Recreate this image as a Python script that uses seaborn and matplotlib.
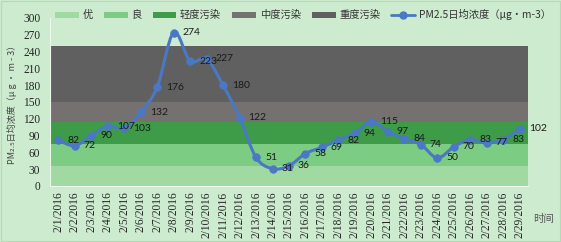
import numpy as np
import pandas as pd
import matplotlib
matplotlib.use('Agg')
import matplotlib.pyplot as plt
import seaborn as sns
from matplotlib.patches import Patch, PathPatch
from matplotlib.lines import Line2D
from matplotlib.path import Path

# ------------------------------------------------------------ #
# data
# ------------------------------------------------------------ #
dates = ['2/%d/2016' % d for d in range(1, 30)]
pm25 = [82, 72, 90, 107, 103, 132, 176, 274, 223, 227, 180, 122, 51, 31,
        36, 58, 69, 82, 94, 115, 97, 84, 74, 50, 70, 83, 77, 83, 102]

band_names = ['优', '良', '轻度污染', '中度污染', '重度污染']
band_lows = [0, 35, 75, 115, 150]
band_highs = [35, 75, 115, 150, 250]
band_colors = ['#a0d9a2', '#7ccc83', '#3e9b48', '#767171', '#606060']

series_name = 'PM2.5日均浓度（μg·m-3）'
y_label = 'PM₂.₅日均浓度（μ g • m - 3）'
x_label = '时间'

df = pd.DataFrame({'date': dates, 'pm25': pm25})
df['pos'] = np.arange(len(df))

line_color = '#4a78c4'

# ------------------------------------------------------------ #
# plot
# ------------------------------------------------------------ #
sns.set_style('white')
plt.rcParams['font.family'] = ['Noto Sans CJK SC', 'DejaVu Sans']

bg = '#cdebcf'
fig = plt.figure(figsize=(5.61, 2.42), dpi=100, facecolor=bg)
ax = fig.add_axes([50 / 561, 56 / 242, 478 / 561, 168 / 242])
ax.set_facecolor('none')

for lo, hi, c in zip(band_lows, band_highs, band_colors):
    ax.axhspan(lo, hi, color=c, lw=0, zorder=0)


# smoothed line like excel: bezier segments through the data points
def smooth_path(xs, ys):
    p = np.column_stack([xs, ys]).astype(float)
    n = len(p)
    verts = [p[0]]
    codes = [Path.MOVETO]
    for i in range(n - 1):
        p0 = p[i - 1] if i > 0 else p[i]
        p3 = p[i + 2] if i + 2 < n else p[i + 1]
        c1 = p[i] + (p[i + 1] - p0) / 6
        c2 = p[i + 1] - (p3 - p[i]) / 6
        verts += [c1, c2, p[i + 1]]
        codes += [Path.CURVE4] * 3
    return Path(verts, codes)


ax.add_patch(PathPatch(smooth_path(df['pos'], df['pm25']), fill=False,
                       edgecolor=line_color, lw=2.2, zorder=3,
                       capstyle='round', joinstyle='round'))
sns.scatterplot(data=df, x='pos', y='pm25', ax=ax, color=line_color, s=30,
                edgecolor=line_color, linewidth=0.5, zorder=4, legend=False)

for x, v in zip(df['pos'], df['pm25']):
    ax.annotate(str(v), (x, v), xytext=(6.5, 0), textcoords='offset points',
                ha='left', va='center', fontsize=7.5, color='#1a1a1a',
                family='Lato', zorder=5)

ax.set_xlim(-0.5, len(dates) - 0.5)
ax.set_ylim(0, 300)
ax.set_yticks(np.arange(0, 301, 30))
ax.set_xticks(df['pos'])
ax.set_xticklabels(dates, rotation=90, fontsize=8.3, family='Liberation Serif')
for t in ax.get_yticklabels():
    t.set_fontsize(8.3)
    t.set_family('Liberation Serif')

ax.set_xticks(np.arange(-0.5, len(dates), 1), minor=True)
ax.tick_params(axis='x', which='major', length=0, pad=4)
ax.tick_params(axis='x', which='minor', length=3.5, color='#eef6ee', width=0.8)
ax.tick_params(axis='y', length=3, direction='in', color='#eef6ee',
               width=0.8, pad=7)

for s in ['top', 'right']:
    ax.spines[s].set_visible(False)
ax.spines['left'].set_color('#eef6ee')
ax.spines['bottom'].set_color('#eef6ee')

ax.set_xlabel('')
ax.set_ylabel(y_label, fontsize=6.5, color='#444444',
              family=['Noto Sans CJK SC', 'DejaVu Sans'], labelpad=4)
fig.text(543 / 561, 23 / 242, x_label, fontsize=7.5, color='#555555',
         ha='center', va='center')

handles = [Patch(facecolor=c, edgecolor='none') for c in band_colors]
handles.append(Line2D([], [], color=line_color, lw=2, marker='o', markersize=5))
leg = fig.legend(handles, band_names + [series_name], loc='upper center',
                 bbox_to_anchor=(0.54, 1.0), ncol=6, frameon=False,
                 fontsize=7.4, handlelength=2.3, handleheight=0.5,
                 columnspacing=1.1, handletextpad=0.35)
for t in leg.get_texts():
    t.set_color('#333333')

fig.patches.append(plt.Rectangle((0.002, 0.004), 0.996, 0.992,
                                 transform=fig.transFigure, fill=False,
                                 edgecolor='#b8d8ba', lw=0.8))

fig.savefig('out.png', dpi=100, facecolor=bg)
